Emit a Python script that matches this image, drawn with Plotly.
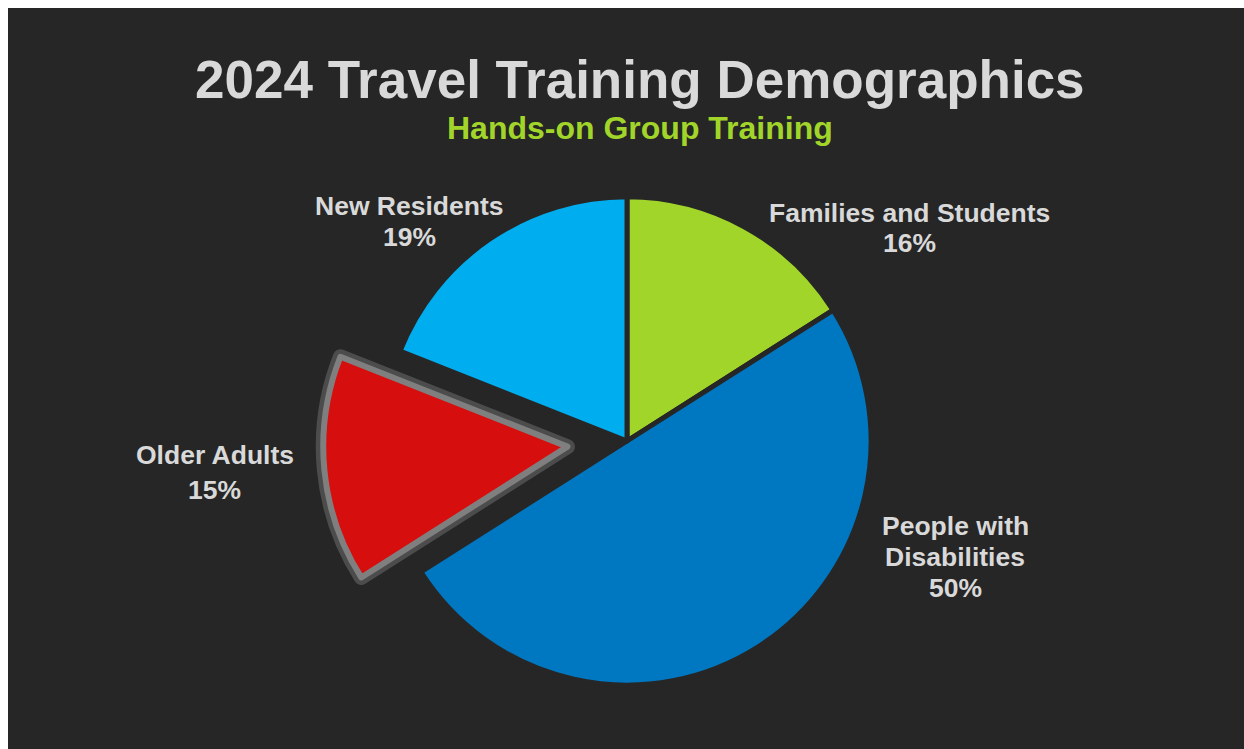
import plotly.graph_objects as go

# ---- data ----
categories = ["Families and Students", "People with Disabilities", "Older Adults", "New Residents"]
values = [16, 50, 15, 19]
label_lines = [["Families and Students"], ["People with", "Disabilities"], ["Older Adults"], ["New Residents"]]
colors = ["#A2D52A", "#0078C1", "#D60E0E", "#00AEEF"]
pulls = [0, 0, 0.245, 0]

title_text = "2024 Travel Training Demographics"
subtitle_text = "Hands-on Group Training"

W, H = 1244, 749
OFF = 8  # page body margin
BG = "#262626"
TXT = "#D9D9D9"
FONT = "Liberation Sans, Arial, sans-serif"

# label line centres (screen px): x, then y per line
label_x = [909, 955, 214.5, 409]
label_y = [[213, 243], [526, 557, 588], [455, 489.5], [206, 237]]


def px(x):
    return (x - OFF) / W


def py(y):
    return 1 - (y - OFF) / H


fig = go.Figure()

cx, cy = 627, 441
r_box = 608
domain_x = [px(cx - 400), px(cx + 400)]
domain_y = [py(cy + r_box / 2), py(cy - r_box / 2)]

# soft glow behind the pulled slice
glow_line_colors = ["rgba(0,0,0,0)" if p == 0 else "rgba(150,150,150,0.35)" for p in pulls]
glow_line_widths = [0 if p == 0 else 15 for p in pulls]
fig.add_trace(go.Pie(
    labels=categories, values=values, sort=False, direction="clockwise", rotation=0,
    pull=pulls, textinfo="none", hoverinfo="skip", showlegend=False,
    marker=dict(colors=["rgba(0,0,0,0)"] * len(values),
                line=dict(color=glow_line_colors, width=glow_line_widths)),
    domain=dict(x=domain_x, y=domain_y),
))

line_colors = [BG if p == 0 else "#7F7F7F" for p in pulls]
line_widths = [5 if p == 0 else 6 for p in pulls]
fig.add_trace(go.Pie(
    labels=categories, values=values, sort=False, direction="clockwise", rotation=0,
    pull=pulls, textinfo="none", showlegend=False,
    marker=dict(colors=colors, line=dict(color=line_colors, width=line_widths)),
    domain=dict(x=domain_x, y=domain_y),
))

annotations = []
for lines, v, lx, ys in zip(label_lines, values, label_x, label_y):
    texts = lines + [f"{v}%"]
    for t, ly in zip(texts, ys):
        annotations.append(dict(
            x=px(lx), y=py(ly), xref="paper", yref="paper", showarrow=False,
            text=f"<b>{t}</b>", align="center", xanchor="center", yanchor="middle",
            font=dict(family=FONT, size=26.5, color=TXT),
        ))

annotations.append(dict(
    x=px(640), y=py(79.5), xref="paper", yref="paper", showarrow=False,
    text=f"<b>{title_text}</b>", xanchor="center", yanchor="middle",
    font=dict(family=FONT, size=53, color=TXT),
))
annotations.append(dict(
    x=px(640), y=py(128.5), xref="paper", yref="paper", showarrow=False,
    text=f"<b>{subtitle_text}</b>", xanchor="center", yanchor="middle",
    font=dict(family=FONT, size=32, color="#A2D52A"),
))

fig.update_layout(
    width=W, height=H,
    margin=dict(l=0, r=0, t=0, b=0),
    paper_bgcolor=BG,
    plot_bgcolor=BG,
    annotations=annotations,
)

fig.write_html(
    "out.html",
    post_script="document.body.style.margin='8px 0 0 8px';",
)
